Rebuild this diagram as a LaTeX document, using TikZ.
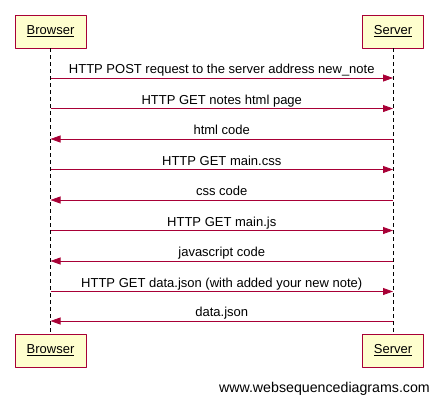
\documentclass[tikz,border=0pt]{standalone}
\usepackage{fontspec}
\setmainfont{Liberation Sans}
\usetikzlibrary{arrows.meta,positioning}
\definecolor{wsdred}{HTML}{A80036}
\definecolor{wsdyellow}{HTML}{FEFECE}
\begin{document}
\begin{tikzpicture}[x=1pt,y=-1pt,line join=round,>={Triangle[length=10pt,width=7pt]}]
    \tikzset{actor/.style={draw=wsdred,fill=wsdyellow,line width=0.8pt,minimum height=33pt,inner xsep=11.7pt,font=\fontsize{13}{15}\selectfont},
        msg/.style={draw=wsdred,line width=0.8pt,->},
        msglabel/.style={above=1pt,font=\fontsize{13}{15}\selectfont,inner sep=0pt,text height=9.5pt,text depth=2.8pt},
        lifeline/.style={line width=0.7pt,dash pattern=on 4pt off 3pt}}
    \useasboundingbox (0,0) rectangle (438,402);
    % participants, top and bottom
    \node[actor] (btop) at (50.5,31.5) {\underline{Browser}};
    \node[actor] (stop) at (393,31.5) {\underline{Server}};
    \node[actor] (bbot) at (50.5,350.5) {\underline{Browser}};
    \node[actor] (sbot) at (393,350.5) {\underline{Server}};
    \draw[lifeline] (btop) -- (bbot);
    \draw[lifeline] (stop) -- (sbot);
    % messages
    \foreach \i/\y/\dir/\txt in {1/78/r/HTTP POST request to the server address new\_note,
        2/108.5/r/HTTP GET notes html page,
        3/139/l/html code,
        4/169.5/r/HTTP GET main.css,
        5/200/l/css code,
        6/230.5/r/HTTP GET main.js,
        7/261/l/javascript code,
        8/291.5/r/HTTP GET data.json (with added your new note),
        9/321/l/data.json}
    {
        \coordinate (b\i) at (btop.south |- 0,\y);
        \coordinate (s\i) at (stop.south |- 0,\y);
        \if r\dir
            \draw[msg] (b\i) -- node[msglabel] {\txt} (s\i);
        \else
            \draw[msg] (s\i) -- node[msglabel] {\txt} (b\i);
        \fi
    }
    \node[anchor=base east,inner sep=0pt,font=\fontsize{14.2}{16}\selectfont] (wsd) at (430,392) {www.websequencediagrams.com};
\end{tikzpicture}
\end{document}
